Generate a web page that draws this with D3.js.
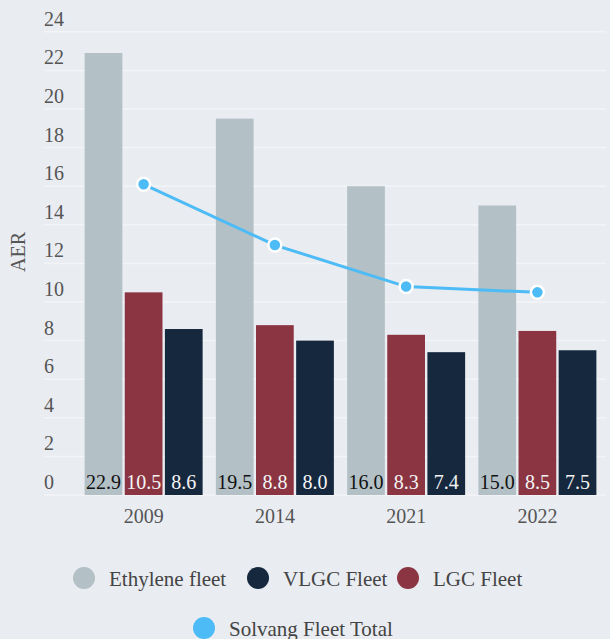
<!DOCTYPE html>
<html lang="en">
<head>
<meta charset="UTF-8">
<script src="https://d3js.org/d3.v7.min.js"></script>
<title>AER by fleet</title>
<style>
	body { margin: 0; background: #e9ecf1; }
	svg { display: block; font-family: "Liberation Serif", serif; }
	.tick-label { fill: #555; font-size: 20px; }
	.legend-text { fill: #444; font-size: 21px; }
</style>
</head>
<body>
<script>
// data
const years = ["2009", "2014", "2021", "2022"];
const seriesNames = ["Ethylene fleet", "LGC Fleet", "VLGC Fleet"];
const ethylene = [22.9, 19.5, 16.0, 15.0];
const lgc = [10.5, 8.8, 8.3, 8.5];
const vlgc = [8.6, 8.0, 7.4, 7.5];
const solvang = [16.1, 12.95, 10.8, 10.5];
const yTicks = [0, 2, 4, 6, 8, 10, 12, 14, 16, 18, 20, 22, 24];
const legendOrder = ["Ethylene fleet", "VLGC Fleet", "LGC Fleet"];

const colors = {
	"Ethylene fleet": "#b3c0c6",
	"LGC Fleet": "#8b3543",
	"VLGC Fleet": "#15283e",
	"Solvang Fleet Total": "#4dbbf5"
};
const labelColors = {
	"Ethylene fleet": "#111",
	"LGC Fleet": "#f4f4f4",
	"VLGC Fleet": "#f4f4f4"
};

const svg = d3.select("body").append("svg")
	.attr("width", 610)
	.attr("height", 639);

const y = d3.scaleLinear().domain([0, 24]).range([495, 31.8]);
const x0 = d3.scaleBand().domain(years).range([78, 603]).padding(0);
const x1 = d3.scaleBand().domain(seriesNames).range([-59, 59]).paddingInner(0.06);

// grid lines + y labels
svg.append("g").selectAll("line")
	.data(yTicks)
	.enter().append("line")
	.attr("x1", 44).attr("x2", 606)
	.attr("y1", d => y(d)).attr("y2", d => y(d))
	.attr("stroke", "#f2f4f7")
	.attr("stroke-width", 1.5);

svg.append("g").selectAll("text")
	.data(yTicks)
	.enter().append("text")
	.attr("class", "tick-label")
	.attr("x", 44)
	.attr("y", d => y(d) - 6)
	.text(d => d);

svg.append("text")
	.attr("class", "tick-label")
	.attr("transform", "translate(25,252) rotate(-90)")
	.attr("text-anchor", "middle")
	.text("AER");

// x labels
svg.append("g").selectAll("text")
	.data(years)
	.enter().append("text")
	.attr("class", "tick-label")
	.attr("x", d => x0(d) + x0.bandwidth() / 2)
	.attr("y", 523)
	.attr("text-anchor", "middle")
	.text(d => d);

// bars
const rows = [];
years.forEach(function (yr, i) {
	rows.push({ year: yr, name: "Ethylene fleet", value: ethylene[i] });
	rows.push({ year: yr, name: "LGC Fleet", value: lgc[i] });
	rows.push({ year: yr, name: "VLGC Fleet", value: vlgc[i] });
});

const center = d => x0(d.year) + x0.bandwidth() / 2;

svg.append("g").selectAll("rect")
	.data(rows)
	.enter().append("rect")
	.attr("x", d => center(d) + x1(d.name))
	.attr("y", d => y(d.value))
	.attr("width", x1.bandwidth())
	.attr("height", d => y(0) - y(d.value))
	.attr("fill", d => colors[d.name]);

svg.append("g").selectAll("text")
	.data(rows)
	.enter().append("text")
	.attr("x", d => center(d) + x1(d.name) + x1.bandwidth() / 2)
	.attr("y", y(0) - 6)
	.attr("text-anchor", "middle")
	.style("font-size", "20px")
	.attr("fill", d => labelColors[d.name])
	.text(d => d.value.toFixed(1));

// Solvang line
const line = d3.line()
	.x((d, i) => x0(years[i]) + x0.bandwidth() / 2)
	.y(d => y(d));

svg.append("path")
	.datum(solvang)
	.attr("d", line)
	.attr("fill", "none")
	.attr("stroke", colors["Solvang Fleet Total"])
	.attr("stroke-width", 3);

svg.append("g").selectAll("circle")
	.data(solvang)
	.enter().append("circle")
	.attr("cx", (d, i) => x0(years[i]) + x0.bandwidth() / 2)
	.attr("cy", d => y(d))
	.attr("r", 6.5)
	.attr("fill", colors["Solvang Fleet Total"])
	.attr("stroke", "#fff")
	.attr("stroke-width", 2.5);

// legend
const legendItems = [
	{ name: legendOrder[0], cx: 84, cy: 578 },
	{ name: legendOrder[1], cx: 258, cy: 578 },
	{ name: legendOrder[2], cx: 408, cy: 578 },
	{ name: "Solvang Fleet Total", cx: 204, cy: 628 }
];
const lg = svg.append("g").selectAll("g")
	.data(legendItems)
	.enter().append("g")
	.attr("transform", d => "translate(" + d.cx + "," + d.cy + ")");
lg.append("circle")
	.attr("r", 11)
	.attr("fill", d => colors[d.name]);
lg.append("text")
	.attr("class", "legend-text")
	.attr("x", 25)
	.attr("y", 8)
	.text(d => d.name);
</script>
</body>
</html>
